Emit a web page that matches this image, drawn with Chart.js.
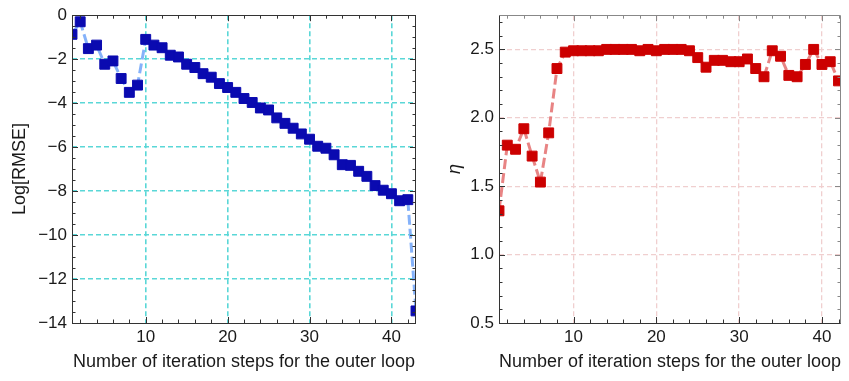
<!DOCTYPE html>
<html>
<head>
<meta charset="utf-8">
<script src="https://cdn.jsdelivr.net/npm/chart.js@4/dist/chart.umd.min.js"></script>
<style>
  body { margin: 0; background: #fff; }
  .panel { position: absolute; top: 0; height: 381px; }
  #leftBox { left: 0; width: 430px; }
  #rightBox { left: 430px; width: 419px; }
</style>
</head>
<body>
<div class="panel" id="leftBox"><canvas id="rmseChart"></canvas></div>
<div class="panel" id="rightBox"><canvas id="etaChart"></canvas></div>
<script>
// --- datos ---
const steps = [1, 2, 3, 4, 5, 6, 7, 8, 9, 10, 11, 12, 13, 14, 15, 16, 17, 18, 19, 20, 21,
    22, 23, 24, 25, 26, 27, 28, 29, 30, 31, 32, 33, 34, 35, 36, 37, 38, 39, 40, 41, 42, 43];
const logRmse = [-0.87, -0.30, -1.52, -1.36, -2.23, -2.08, -2.88, -3.51, -3.18, -1.10,
    -1.36, -1.48, -1.82, -1.90, -2.23, -2.38, -2.66, -2.82, -3.11, -3.29,
    -3.51, -3.79, -3.97, -4.22, -4.31, -4.67, -4.92, -5.14, -5.40, -5.64,
    -5.96, -6.05, -6.35, -6.80, -6.83, -7.10, -7.33, -7.75, -7.96, -8.12,
    -8.44, -8.39, -13.45];
const eta = [1.32, 1.80, 1.77, 1.92, 1.72, 1.53, 1.89, 2.36, 2.48, 2.49,
    2.49, 2.49, 2.49, 2.50, 2.50, 2.50, 2.50, 2.49, 2.50, 2.49,
    2.50, 2.50, 2.50, 2.49, 2.44, 2.37, 2.42, 2.42, 2.41, 2.41,
    2.43, 2.36, 2.30, 2.49, 2.45, 2.31, 2.30, 2.39, 2.50, 2.39,
    2.41, 2.27];
const xTicks = [10, 20, 30, 40];
const rmseTicks = [-14, -12, -10, -8, -6, -4, -2, 0];
const etaTicks = [0.5, 1.0, 1.5, 2.0, 2.5];
const xTitle = 'Number of iteration steps for the outer loop';

const FONT = "'Liberation Sans', Arial, sans-serif";
const TXT = '#1a1a1a';

// marco estilo Mathematica con marcas hacia dentro
const framePlugin = {
    id: 'frame',
    afterDraw(chart, args, opts) {
        const { ctx, chartArea: a, scales } = chart;
        const xs = scales.x, ys = scales.y;
        ctx.save();
        ctx.lineWidth = 1;
        const tick = (x1, y1, x2, y2, col) => {
            ctx.strokeStyle = col;
            ctx.beginPath();
            ctx.moveTo(x1, y1);
            ctx.lineTo(x2, y2);
            ctx.stroke();
        };
        for (let v = Math.ceil(xs.min / opts.xMinor) * opts.xMinor; v <= xs.max + 1e-9; v += opts.xMinor) {
            const px = Math.round(xs.getPixelForValue(v)) + 0.5;
            const len = Math.abs(v % opts.xMajor) < 1e-9 ? 6 : 3.5;
            tick(px, a.bottom, px, a.bottom - len, opts.mainColor);
            tick(px, a.top, px, a.top + len, opts.sideColor);
        }
        for (let v = Math.ceil(ys.min / opts.yMinor - 1e-9) * opts.yMinor; v <= ys.max + 1e-9; v += opts.yMinor) {
            const py = Math.round(ys.getPixelForValue(v)) + 0.5;
            const r = Math.abs(v / opts.yMajor - Math.round(v / opts.yMajor)) < 1e-6;
            const len = r ? 6 : 3.5;
            tick(a.left, py, a.left + len, py, opts.mainColor);
            tick(a.right, py, a.right - len, py, opts.sideColor);
        }
        const l = Math.round(a.left) + 0.5, r = Math.round(a.right) - 0.5;
        const t = Math.round(a.top) + 0.5, b = Math.round(a.bottom) + 0.5;
        tick(l, t, r, t, opts.sideColor);
        tick(r, t, r, b, opts.sideColor);
        tick(l, b, r, b, opts.mainColor);
        tick(l, t, l, b, opts.mainColor);
        ctx.restore();
    }
};

function makeChart(id, ys, o) {
    return new Chart(document.getElementById(id), {
        type: 'line',
        data: {
            datasets: [{
                data: steps.slice(0, ys.length).map((s, i) => ({ x: s, y: ys[i] })),
                borderColor: o.lineColor,
                borderWidth: 3,
                borderDash: [10, 4],
                backgroundColor: o.pointColor,
                pointBackgroundColor: o.pointColor,
                pointBorderColor: o.pointColor,
                pointBorderWidth: 1,
                pointStyle: 'rect',
                pointRadius: 7,
                pointHoverRadius: 7,
                tension: 0,
                clip: 0
            }]
        },
        options: {
            responsive: true,
            maintainAspectRatio: false,
            animation: false,
            events: [],
            layout: { padding: { top: o.top, right: o.right, left: 0, bottom: 0 } },
            plugins: {
                legend: { display: false },
                tooltip: { enabled: false },
                frame: o.frame
            },
            scales: {
                x: {
                    type: 'linear',
                    min: 1,
                    max: o.xMax,
                    afterBuildTicks: s => { s.ticks = xTicks.map(v => ({ value: v })); },
                    afterFit: s => { s.height = 58; },
                    grid: { color: o.gridColor, lineWidth: o.gridWidth, drawTicks: false },
                    border: { display: false, dash: [5, 3] },
                    ticks: { autoSkip: false, maxRotation: 0, padding: 4, color: TXT, font: { family: FONT, size: 17 } },
                    title: {
                        display: true, text: xTitle, color: TXT,
                        font: { family: FONT, size: 18 }, padding: { top: 0, bottom: 8 }
                    }
                },
                y: {
                    type: 'linear',
                    min: o.yMin,
                    max: o.yMax,
                    afterBuildTicks: s => { s.ticks = o.yTicks.map(v => ({ value: v })); },
                    afterFit: s => { s.width = o.yWidth; },
                    grid: {
                        color: c => (c.tick && (c.tick.value === o.yMin || c.tick.value === o.yMax)) ? 'rgba(0,0,0,0)' : o.gridColor,
                        lineWidth: o.gridWidth, drawTicks: false
                    },
                    border: { display: false, dash: [5, 3] },
                    ticks: { autoSkip: false, padding: 5, color: TXT, font: { family: FONT, size: 17 }, callback: o.yFmt },
                    title: {
                        display: true, text: o.yTitle, color: TXT,
                        font: { family: FONT, size: 18, style: o.yTitleStyle }, padding: { top: o.yTitlePad, bottom: 0 }
                    }
                }
            }
        },
        plugins: [framePlugin]
    });
}

makeChart('rmseChart', logRmse, {
    lineColor: 'rgba(120,170,250,0.9)',
    pointColor: '#0a0ab0',
    gridColor: 'rgb(90,215,215)',
    gridWidth: 1.6,
    top: 14, right: 14, xMax: 43, yMin: -14, yMax: 0, yWidth: 72,
    yTicks: rmseTicks,
    yFmt: v => v < 0 ? '\u2212' + Math.abs(v) : String(v),
    yTitle: 'Log[RMSE]', yTitleStyle: 'normal', yTitlePad: 9,
    frame: { xMinor: 2, xMajor: 10, yMinor: 0.5, yMajor: 2, mainColor: '#333333', sideColor: '#333333' }
});

makeChart('etaChart', eta, {
    lineColor: 'rgba(228,110,110,0.85)',
    pointColor: '#cc0000',
    gridColor: '#f0cfcf',
    gridWidth: 1.3,
    top: 3, right: 0, xMax: 42.3, yMin: 0.5, yMax: 2.75, yWidth: 69,
    yTicks: etaTicks,
    yFmt: v => v.toFixed(1),
    yTitle: '\u03b7', yTitleStyle: 'italic', yTitlePad: 14,
    frame: { xMinor: 2, xMajor: 10, yMinor: 0.1, yMajor: 0.5, mainColor: '#333333', sideColor: '#888888' }
});
</script>
</body>
</html>
